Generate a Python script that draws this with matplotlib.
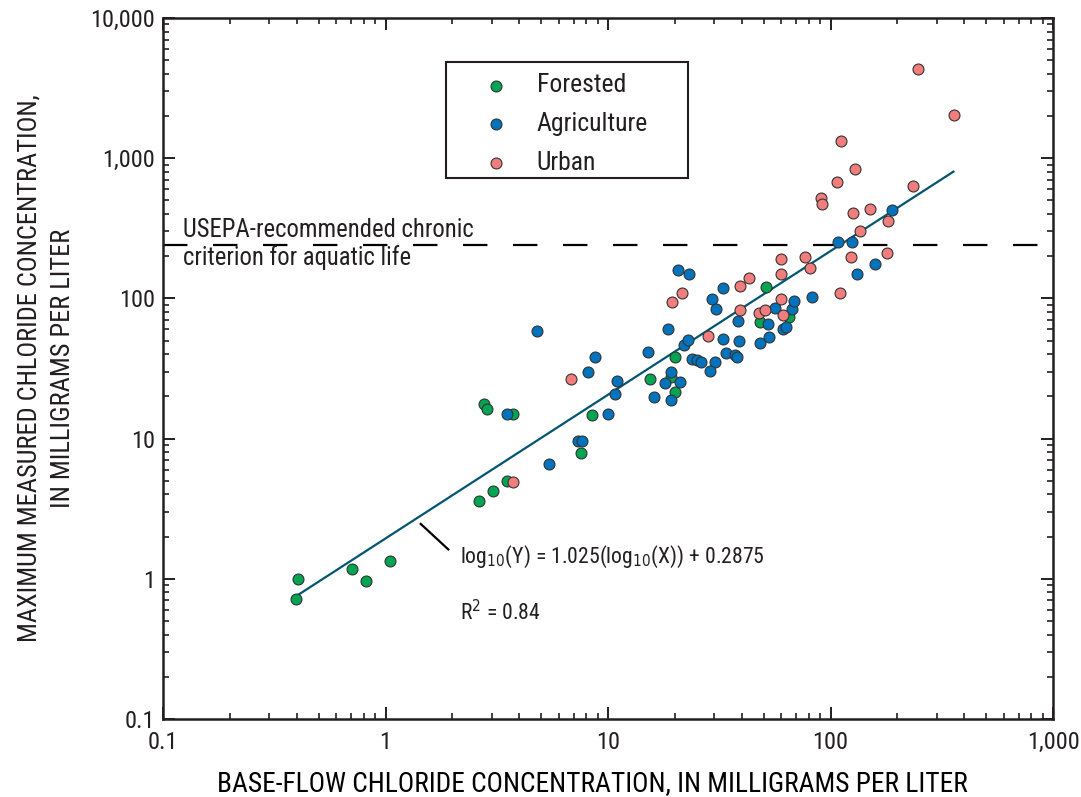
import numpy as np
import matplotlib
matplotlib.use("Agg")
import matplotlib.pyplot as plt
from matplotlib.patches import Rectangle
from matplotlib.ticker import FixedLocator, FixedFormatter, LogLocator, NullFormatter

narrow = ['Liberation Sans Narrow', 'Noto Sans Condensed', 'Roboto Condensed', 'DejaVu Sans']
plt.rcParams['font.family'] = narrow
plt.rcParams['font.stretch'] = 'condensed'
plt.rcParams['mathtext.fontset'] = 'custom'
plt.rcParams['mathtext.rm'] = 'DejaVu Sans:stretch=condensed'
plt.rcParams['text.color'] = '#231f20'

# Base-flow vs. maximum measured chloride (mg/L), by land use
forested_x = [0.395, 0.406, 0.707, 0.817, 1.05, 2.63, 3.04, 3.50, 2.78, 2.85, 3.73, 7.54, 8.45,
              15.4, 19.2, 20.0, 20.0, 51.1, 48.4, 65.3]
forested_y = [0.72, 1.0, 1.18, 0.96, 1.33, 3.56, 4.24, 4.98, 17.5, 16.3, 14.9, 7.92, 14.8,
              26.8, 27.5, 21.6, 37.9, 120, 68.1, 73.6]

agri_x = [3.52, 5.45, 7.33, 7.66, 4.81, 8.77, 8.16, 11.0, 10.8, 10.0, 16.1, 19.1, 18.0, 21.1,
          19.1, 15.2, 18.6, 22.0, 23.0, 20.6, 23.1, 29.2, 30.5, 33.0, 23.9, 25.2, 26.1, 30.2,
          28.6, 33.0, 38.9, 38.3, 33.9, 37.1, 38.1, 48.1, 53.1, 52.4, 56.1, 61.2, 62.9, 67.1,
          68.8, 82.6, 108, 125, 131, 158, 189]
agri_y = [15.0, 6.54, 9.65, 9.65, 58.1, 37.9, 29.8, 25.8, 20.8, 15.0, 19.9, 18.9, 25.1, 25.4,
          29.8, 41.4, 60.0, 46.7, 50.1, 160, 150, 99.3, 83.9, 118, 36.9, 36.5, 34.9, 34.9,
          30.3, 50.9, 49.8, 69.2, 40.5, 39.4, 37.9, 47.7, 53.2, 65.9, 85.7, 60.7, 62.4, 83.9,
          95.0, 103, 251, 251, 150, 177, 426]

urban_x = [3.73, 6.84, 19.3, 21.5, 28.1, 39.1, 39.1, 43.0, 47.7, 50.8, 60.1, 60.1, 60.2, 61.2,
           76.9, 80.9, 110, 123, 180, 136, 182, 126, 151, 90.2, 91.6, 107, 129, 112, 236, 248, 358]
urban_y = [4.86, 26.8, 94.6, 109, 53.7, 123, 82.9, 139, 78.0, 82.0, 190, 149, 98.9, 75.8,
           197, 165, 110, 197, 210, 300, 354, 408, 434, 522, 471, 675, 833, 1324, 638, 4341, 2030]

# regression: log10(Y) = slope * log10(X) + intercept
slope = 1.025
intercept = 0.2875
r_squared = 0.84
fit_range = [0.4, 357]

criterion = 240  # USEPA chronic criterion line

x_ticks = [0.1, 1, 10, 100, 1000]
x_tick_labels = ['0.1', '1', '10', '100', '1,000']
y_ticks = [0.1, 1, 10, 100, 1000, 10000]
y_tick_labels = ['0.1', '1', '10', '100', '1,000', '10,000']

fig = plt.figure(figsize=(10.81, 7.97), dpi=100)
ax = fig.add_axes([0.1508, 0.0979, 0.8233, 0.8796])

edge = '#333333'
msize = 62
ax.scatter(forested_x, forested_y, s=msize, c='#00a551', edgecolors=edge, linewidths=0.8,
           label='Forested', zorder=3)
ax.scatter(agri_x, agri_y, s=msize, c='#0073bd', edgecolors=edge, linewidths=0.8,
           label='Agriculture', zorder=3)
ax.scatter(urban_x, urban_y, s=msize, c='#f27d7d', edgecolors=edge, linewidths=0.8,
           label='Urban', zorder=3)

fx = np.array(fit_range)
fy = 10 ** (intercept + slope * np.log10(fx))
ax.plot(fx, fy, color='#005670', lw=1.6, zorder=2)

ax.axhline(criterion, color='black', lw=1.6, ls=(0, (11, 11.5)), zorder=1)

ax.text(0.123, 273, 'USEPA-recommended chronic', fontsize=17.7, va='baseline', ha='left')
ax.text(0.123, 172, 'criterion for aquatic life', fontsize=17.7, va='baseline', ha='left')

# leader from equation to the fitted line
ax.plot([1.44, 1.915], [2.46, 1.62], color='black', lw=1.6)
ax.text(2.16, 1.294, r'log$_{10}$(Y) = 1.025(log$_{10}$(X)) + 0.2875', fontsize=15.7,
        va='baseline', ha='left')
ax.text(2.16, 0.504, 'R$^2$ = %.2f' % r_squared, fontsize=15.7, va='baseline', ha='left')

ax.set_xscale('log')
ax.set_yscale('log')
ax.set_xlim(0.1, 1000)
ax.set_ylim(0.1, 10000)

ax.xaxis.set_major_locator(FixedLocator(x_ticks))
ax.xaxis.set_major_formatter(FixedFormatter(x_tick_labels))
ax.yaxis.set_major_locator(FixedLocator(y_ticks))
ax.yaxis.set_major_formatter(FixedFormatter(y_tick_labels))
for axis in (ax.xaxis, ax.yaxis):
    axis.set_minor_locator(LogLocator(base=10, subs=np.arange(2, 10)))
    axis.set_minor_formatter(NullFormatter())

ax.tick_params(which='both', direction='in', top=True, right=True, colors='#231f20')
ax.tick_params(which='major', length=8.5, width=1.4, labelsize=17.5)
ax.tick_params(axis='x', which='major', pad=8.5)
ax.tick_params(axis='y', which='major', pad=6)
ax.tick_params(which='minor', length=4.5, width=1.2)
for sp in ax.spines.values():
    sp.set_linewidth(1.8)
    sp.set_color('#231f20')

ax.set_xlabel('BASE-FLOW CHLORIDE CONCENTRATION, IN MILLIGRAMS PER LITER', fontsize=19.7,
              va='baseline')
ax.xaxis.set_label_coords(0.4826, -0.103)

fig.text(37 / 1081, 0.5376, 'MAXIMUM MEASURED CHLORIDE CONCENTRATION,', fontsize=19.0,
         rotation=90, rotation_mode='anchor', ha='center', va='baseline')
fig.text(70 / 1081, 0.5376, 'IN MILLIGRAMS PER LITER', fontsize=19.0,
         rotation=90, rotation_mode='anchor', ha='center', va='baseline')

# legend entries without frame, box drawn separately
ax.legend(loc='center left', bbox_to_anchor=(0.3594, 0.8484), frameon=False, borderpad=0,
          borderaxespad=0, handlelength=1.0, handletextpad=1.1, labelspacing=0.58,
          scatterpoints=1, fontsize=18.5)
ax.add_patch(Rectangle((0.3176, 0.7713), 0.2719, 0.1663, transform=ax.transAxes,
                       fill=False, edgecolor='#231f20', lw=1.5, zorder=4))

fig.savefig('out.png', dpi=100)
